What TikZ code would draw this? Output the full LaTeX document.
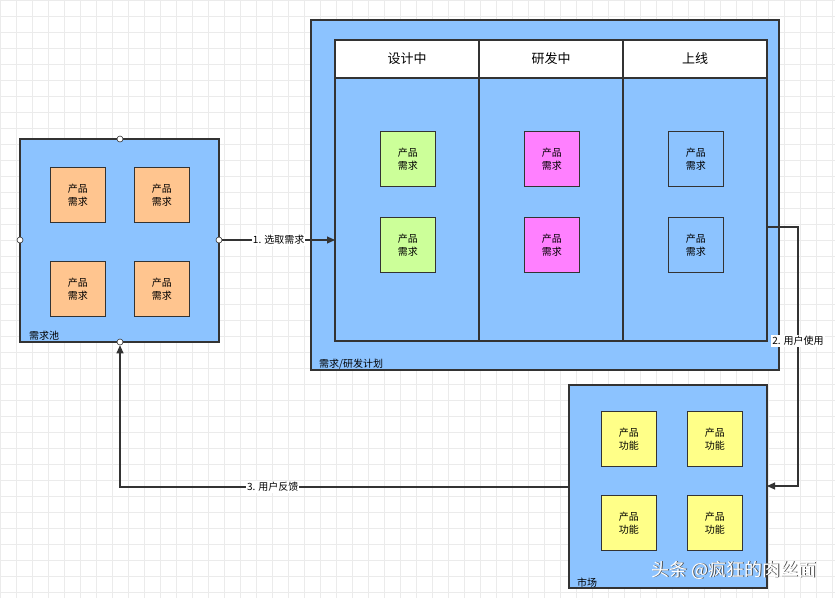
\documentclass[tikz,border=0pt]{standalone}
\usepackage{fontspec}
\setmainfont{Noto Sans CJK SC}
\usetikzlibrary{arrows.meta}
\definecolor{bblue}{HTML}{8CC3FF}
\definecolor{orng}{HTML}{FFC58F}
\definecolor{grn}{HTML}{CCFF99}
\definecolor{mag}{HTML}{FF80FF}
\definecolor{ylw}{HTML}{FFFF88}
\definecolor{gridc}{HTML}{EBEBEB}
\definecolor{ln}{HTML}{333333}
\begin{document}
\begin{tikzpicture}[x=1pt,y=-1pt,
  box/.style={draw=ln,fill=bblue,line width=1.2pt},
  card/.style={draw=ln,line width=0.9pt,minimum width=55pt,minimum height=55pt,inner sep=0pt,align=center,font=\fontsize{10}{13}\selectfont,anchor=north west},
  dot/.style={circle,draw=ln,fill=white,minimum size=6pt,inner sep=0pt,line width=0.6pt},
  lbl/.style={font=\fontsize{10}{12}\selectfont,anchor=south west,inner sep=1pt},
  hd/.style={font=\fontsize{13}{15}\selectfont},
  arr/.style={draw=ln,line width=1.1pt,-{Triangle[length=8pt,width=7pt]}},
  elab/.style={fill=white,font=\fontsize{10}{12}\selectfont,inner sep=1pt}]
\useasboundingbox (0,0) rectangle (835,598);
\fill[white] (0,0) rectangle (835,598);
\draw[gridc,line width=0.4pt,step=16pt] (0,0) grid (835,598);
% left box
\draw[box] (20,139) rectangle (219,342);
\node[lbl] at (28,342) {需求池};
\foreach \x/\y in {50/167,134/167,50/261,134/261}
  \node[card,fill=orng] at (\x,\y) {产品\\需求};
\node[dot] (dt) at (120,139) {};
\node[dot] (dl) at (20,240) {};
\node[dot] (dr) at (219,240) {};
\node[dot] (db) at (120,342) {};
% plan box
\draw[box] (311,20) rectangle (779,370);
\node[lbl] at (318,370) {需求/研发计划};
\draw[ln,line width=1.2pt] (335,40) rectangle (767,341);
\draw[ln,line width=1.2pt,fill=white] (335,40) rectangle (767,78);
\draw[ln,line width=1.2pt] (479,40) -- (479,341) (623,40) -- (623,341);
\node[hd] at (407,59) {设计中};
\node[hd] at (551,59) {研发中};
\node[hd] at (695,59) {上线};
\coordinate (tl) at (335,240);
\coordinate (tr) at (767,227);
\foreach \y in {131,217}{
  \node[card,fill=grn] at (380,\y) {产品\\需求};
  \node[card,fill=mag] at (524,\y) {产品\\需求};
  \node[card,fill=bblue] at (668,\y) {产品\\需求};}
% market
\draw[box] (569,385) rectangle (767,588);
\node[lbl] at (576,588) {市场};
\foreach \x/\y in {601/411,687/411,601/495,687/495}
  \node[card,fill=ylw] at (\x,\y) {产品\\功能};
\coordinate (mr) at (767,486);
\coordinate (ml) at (569,487);
% arrows
\draw[arr] (dr) -- node[elab]{1. 选取需求} (tl);
\draw[arr] (tr) -- (798,227) -- node[elab,pos=0.44]{2. 用户使用} (798,486) -- (mr);
\draw[arr] (ml) -- node[elab,pos=0.66]{3. 用户反馈} (120,487) -- (db);
% watermark
\node[font=\fontsize{18}{20}\selectfont,text=black!70,anchor=east] at (820.8,570.8) {头条 @疯狂的肉丝面};
\node[font=\fontsize{18}{20}\selectfont,text=white,anchor=east] at (820,570) {头条 @疯狂的肉丝面};
\end{tikzpicture}
\end{document}
